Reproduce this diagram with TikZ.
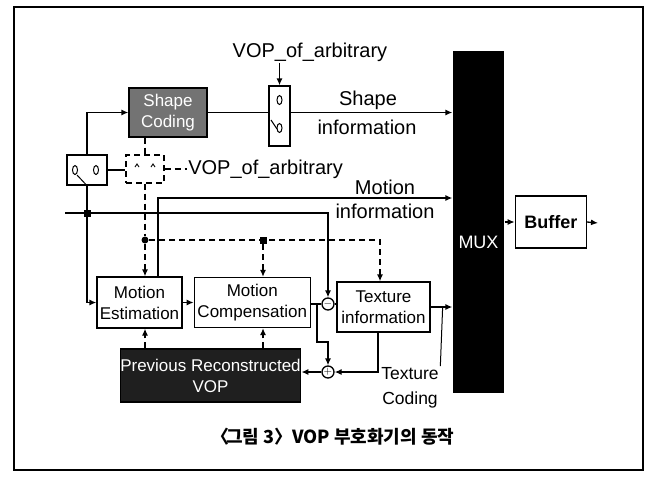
\documentclass[tikz,border=0pt]{standalone}
\usepackage{fontspec}
\setmainfont{Liberation Sans}
\newfontfamily\krfont{Noto Sans CJK KR}
\usetikzlibrary{positioning, arrows.meta, calc}

\newcommand\bxfont{\fontsize{17}{21}\selectfont}
\newcommand\lblfont{\fontsize{20}{24}\selectfont}

\begin{document}
\begin{tikzpicture}[
        x=1pt, y=1pt,
        line width=1.3pt,
        node distance=11pt and 11pt,
        blockbox/.style={rectangle, draw=black, fill=white, align=center, inner sep=0pt, font=\bxfont},
        darkbox/.style={blockbox, fill=black!55, text=white},
        swbox/.style={rectangle, draw=black, fill=white, inner sep=0pt, minimum width=21pt, minimum height=60pt},
        lbl/.style={font=\lblfont, inner sep=1pt},
        arr/.style={-{Latex[length=7pt, width=6pt]}},
        dline/.style={dash pattern=on 6pt off 4pt},
        darr/.style={arr, dline},
        jsq/.style={rectangle, fill=black, inner sep=0pt, minimum size=7pt},
        jdot/.style={circle, fill=black, inner sep=0pt, minimum size=7pt},
        opcirc/.style={circle, draw=black, fill=white, inner sep=0pt, minimum size=12pt, font=\fontsize{11}{11}\selectfont},
    ]
        \useasboundingbox (0,0) rectangle (656,-483);
        \draw[line width=1.2pt] (14,-7) rectangle (643,-470);

        % main blocks
        \node[blockbox, minimum width=85pt, minimum height=51pt] (ME) at (139.5,-302.5) {Motion\\Estimation};
        \node[blockbox, minimum width=116pt, minimum height=50pt, right=11pt of ME] (MC) {Motion\\Compensation};
        \node[opcirc] (minus) at (328,-304) {$-$};
        \node[blockbox, minimum width=93pt, minimum height=50pt] (TI) at (383.5,-307) {Texture\\information};
        \node[opcirc] (plus) at (328,-372) {$+$};
        \node[darkbox, fill=black!88, minimum width=175pt, minimum height=53pt] (prv) at (210.5,-375.5) {Previous Reconstructed\\VOP};
        \node[darkbox, minimum width=78pt, minimum height=49pt] (shape) at (168,-112.5) {Shape\\Coding};
        \node[rectangle, fill=black, inner sep=0pt, minimum width=51pt, minimum height=342pt] (mux) at (478.5,-222) {};
        \node[font=\fontsize{18}{18}\selectfont, text=white] (muxl) at ([yshift=-20pt]mux.center) {MUX};
        \node[blockbox, font=\fontsize{18}{18}\selectfont\bfseries, minimum width=71pt, minimum height=52pt, right=10pt of mux] (buf) {Buffer};

        % switches
        \node[swbox] (sw1) at (279.5,-116) {};
        \node[swbox, minimum width=40pt, minimum height=30pt] (swL) at (87,-170) {};
        \node[swbox, dline, minimum width=38pt, minimum height=28pt] (dsw) at (145,-169) {};
        \draw[line width=1pt] ([yshift=16pt]sw1.center) ellipse (2.5 and 4.5);
        \draw[line width=1pt] ([yshift=-12pt]sw1.center) ellipse (2.5 and 4.5);
        \draw[line width=1pt] ([shift={(-8.5,-4)}]sw1.center) -- ([shift={(-2.5,-13)}]sw1.center);
        \draw[line width=1pt] ([xshift=-12pt]swL.center) ellipse (2.5 and 4.5);
        \draw[line width=1pt] ([xshift=9pt]swL.center) ellipse (2.5 and 4.5);
        \draw[line width=1pt] ([shift={(-10,-5)}]swL.center) -- (swL.south);
        \draw[line width=0.9pt] ([shift={(-10,2)}]dsw.center) -- ++(2,3) -- ++(2,-3);
        \draw[line width=0.9pt] ([shift={(6,2)}]dsw.center) -- ++(2,3) -- ++(2,-3);

        % labels
        \node[lbl] (vop1) at (310,-52) {VOP\_of\_arbitrary};
        \node[lbl, right=22pt of dsw] (vop2) {VOP\_of\_arbitrary};
        \node[lbl] (shpl1) at (368,-100) {Shape};
        \node[lbl] (shpl2) at (367,-127) {information};
        \node[lbl] (motl1) at (385,-187) {Motion};
        \node[lbl] (motl2) at (385,-211) {information};
        \node[lbl, align=center, font=\fontsize{17.5}{25}\selectfont] (tcl) at (410,-388) {Texture\\Coding};
        \node[font=\krfont\bfseries\fontsize{18}{18}\selectfont] (cap) at (333,-437) {〈\kern-0.2em 그림 3〉VOP 부호화기의 동작};

        % junctions
        \coordinate (in) at (65,-213);
        \coordinate (mi) at (158,-198);
        \coordinate (tturn) at (380,-240);
        \coordinate (br) at (317,-304);
        \coordinate (out) at (598,-223);
        \node[jsq] (j1) at (in -| swL.south) {};
        \node[jdot] (d1) at (145,-240) {};
        \node[jsq] (j2) at (263,-240) {};

        % connectors
        \draw[arr] (in) -| (minus.north);
        \draw[arr] (swL.south) |- (ME.west);
        \draw[arr] (swL.north) |- (shape.west);
        \draw (shape.east) -- (shape.east -| sw1.west);
        \draw[arr] (shape.east -| sw1.east) -- (shape.east -| mux.west);
        \draw[arr] (vop1.south -| sw1.north) -- (sw1.north);
        \draw[dline] (shape.south -| dsw.north) -- (dsw.north);
        \draw (swL.east) -- (swL.east -| dsw.west);
        \draw[dline] (dsw.east) -- (vop2.west);
        \draw[dline] (dsw.south) -- (d1);
        \draw[darr] (d1) -- (d1 |- ME.north);
        \draw[darr] (d1) -- (tturn) -- (tturn |- TI.north);
        \draw[darr] (j2) -- (j2 |- MC.north);
        \draw[arr] (mi |- ME.north) -- (mi) -- (mi -| mux.west);
        \draw[arr] (ME.east) -- (MC.west);
        \draw (minus.west -| MC.east) -- (minus.west);
        \draw[arr] (br) -- ++(0,-38) -| (plus.north);
        \draw (minus.east) -- (minus.east -| TI.west);
        \draw[arr] (TI.east) -- (TI.east -| mux.west);
        \draw[arr] ([xshift=-5.5pt]TI.south) |- (plus.east);
        \draw[arr] (plus.west) -- (plus.west -| prv.east);
        \draw[darr] (prv.north -| d1) -- (d1 |- ME.south);
        \draw[darr] (prv.north -| j2) -- (j2 |- MC.south);
        \draw[line width=1pt] (tcl.north east) -- ([xshift=12pt]TI.east);
        \draw[arr] (mux.east) -- (buf.west);
        \draw[arr] (buf.east) -- (out);
    \end{tikzpicture}
\end{document}
